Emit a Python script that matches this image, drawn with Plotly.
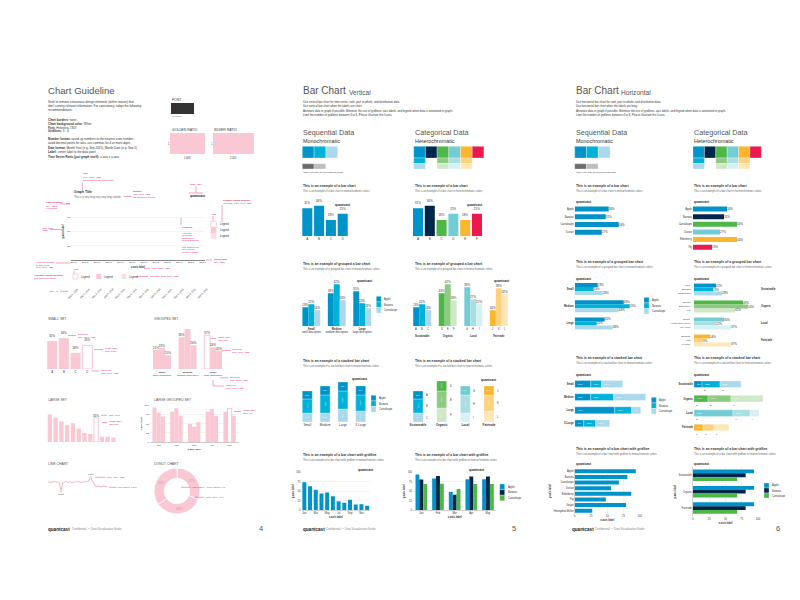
import numpy as np
import plotly.graph_objects as go

W, H = 800, 600
FONT = "Liberation Sans, Arial, Helvetica, sans-serif"
INK = "#333333"
SUBTXT = "#666666"
HEAD = "#555555"
RED = "#e8175d"
PINK = "#f9c8d4"
PINK_LIGHT = "#fcdfe6"
PINK_LINE = "#f2a0b6"
BLUE1, BLUE2, BLUE3 = "#0093c9", "#00b1da", "#a9d9eb"
NAVY = "#00264a"
GREEN1, GREEN2, GREEN3 = "#4eb748", "#8ecb80", "#cfe8c7"
TEAL1, TEAL2, TEAL3 = "#73ccd3", "#a9dfe3", "#d7f0f2"
ORANGE1, ORANGE2, ORANGE3 = "#fbb62e", "#fdd17d", "#fee7b7"
CRIMSON = "#ec1a4c"
GRAY1, GRAY2 = "#6b6b6b", "#bdbdbd"
GRID = "#e8e8e8"
BARGAP = 0.3

# ------------------------------------------------------------------ data
# page 4 : guideline
guide_ticks = ["Sep 5"] * 12
guide_rot_ticks = ["Sep 5, 2015"] * 12
guide_yticks = [25, 50, 75, 100]
legend_words = ["Legend", "Legend", "Legend"]

small_cats = ["A", "B", "C", "D"]
small_vals = [31, 34, 18, 26]

grp_groups = ["Small", "Medium", "Large"]
grp_desc = ["small description", "medium description", "large description"]
grp_apple = [21, 35, 37]
grp_banana = [23, 45, 24]
grp_cant = [15, 26, 20]

large_vals = [31, 27, 23, 19, 21, 15, 10, 9, 27, 6, 6, 5]
large_labels = ["", "", "", "", "", "", "", "", "31%", "", "", ""]

months5 = ["Jan", "Feb", "Mar", "Apr", "May"]
lg_apple = [93, 82, 49, 82, 82]
lg_banana = [80, 91, 42, 89, 91]
lg_cant = [69, 71, 54, 71, 71]

line_vals = [46, 47, 45, 47, 48, 46, 47, 44, 24, 44, 47, 48, 45, 47, 46, 45, 47, 46, 48,
             46, 45, 47, 46, 48, 47, 50, 57, 49, 41, 36, 35, 36, 34, 35, 36, 35, 35]
line_marks = ["0.7M", "0.7M"]

donut_vals = [31, 35, 34]

# page 5 : vertical bars
mono_cats = ["A", "B", "C", "D"]
mono_vals = [31, 34, 18, 25]
hetero_cats = ["A", "B", "C", "D", "E", "F"]
hetero_vals = [31, 34, 18, 25, 18, 25]

fruit3 = ["Apple", "Banana", "Cantaloupe"]
vg_groups = ["Small", "Medium", "Large"]
vg_desc = ["small description", "medium description", "large description"]
vg_apple = [19, 33, 35]
vg_banana = [22, 42, 23]
vg_cant = [16, 26, 18]

cat_groups = ["Sustainable", "Organic", "Local", "Fairtrade"]
cat_letters = [["A", "B", "C"], ["D", "E", "F"], ["G", "H", "I"], ["J", "K", "L"]]
hg_first = [19, 33, 39, 16]
hg_second = [22, 42, 27, 38]
hg_third = [16, 26, 22, 32]

vs_groups = ["Small", "Medium", "Large", "X-Large"]
vs_apple = [8, 9, 9, 9]
vs_banana = [14, 18, 18, 16]
vs_cant = [9, 9, 13, 11]

hs_dark = [8, 10, 9, 9]
hs_mid = [14, 17, 18, 16]
hs_light = [9, 14, 9, 11]

months12 = ["Jan", "Feb", "Mar", "Apr", "May", "Jun", "Jul", "Aug", "Sep", "Oct", "Nov", "Dec"]
gm_vals = [74, 63, 54, 44, 47, 37, 24, 20, 28, 15, 16, 12]
gh_apple = [94, 84, 48, 82, 82]
gh_banana = [81, 90, 41, 89, 89]
gh_cant = [69, 70, 56, 69, 69]

# page 6 : horizontal bars
fruits4 = ["Apple", "Banana", "Cantaloupe", "Durian"]
hm_vals = [34, 31, 44, 27]
fruits6 = ["Apple", "Banana", "Cantaloupe", "Durian", "Elderberry", "Fig"]
hh_vals = [34, 31, 44, 27, 44, 19]

hgm_apple = [23, 49, 30]
hgm_banana = [19, 55, 22]
hgm_cant = [28, 44, 38]

hgh_fruits = [["Apple", "Banana", "Cantaloupe"], ["Durian", "Elderberry", "Fig"],
              ["Grape", "Honeydew Melon", "Ice Apple"], ["Jackfruit", "Kiwi", "Lychee"]]
hgh_first = [22, 49, 30, 16]
hgh_second = [19, 54, 22, 9]
hgh_third = [28, 41, 37, 37]

hsm_apple = [16, 16, 40, 9]
hsm_banana = [11, 23, 17, 12]
hsm_cant = [21, 32, 9, 14]

hsh_dark = [8, 14, 39, 9]
hsh_mid = [18, 23, 17, 11]
hsh_light = [21, 32, 9, 15]

fruits8 = ["Apple", "Banana", "Cantaloupe", "Durian", "Elderberry", "Fig", "Grape", "Honeydew Melon"]
hgr_vals = [94, 81, 68, 56, 87, 48, 79, 27]
hgr2_groups = ["Sustainable", "Organic", "Fairtrade"]
hgr2_apple = [94, 94, 94]
hgr2_banana = [81, 81, 81]
hgr2_cant = [68, 68, 68]

# ------------------------------------------------------------------ helpers
fig = go.Figure()
AX = {}
ANN = []
SHP = []
_count = [0]


def axes(x0, x1, y0, y1, xa=None, ya=None):
    _count[0] += 1
    n = _count[0]
    s = "" if n == 1 else str(n)
    def base():
        return dict(showgrid=False, zeroline=False, showline=False, ticks="",
                    showticklabels=False, fixedrange=True,
                    tickfont=dict(size=3, color=INK, family=FONT))
    xd = base()
    xd.update(domain=[x0 / W, x1 / W], anchor="y" + s)
    yd = base()
    yd.update(domain=[1 - y1 / H, 1 - y0 / H], anchor="x" + s)
    if xa:
        xd.update(xa)
    if ya:
        yd.update(ya)
    AX["xaxis" + s] = xd
    AX["yaxis" + s] = yd
    return ("x" + s, "y" + s)


def text(x, y, s, size=3.0, color=INK, anchor="left", bold=False, angle=0,
         xref="paper", yref="paper"):
    if bold:
        s = "<b>" + s + "</b>"
    ANN.append(dict(x=x / W if xref == "paper" else x,
                    y=1 - y / H if yref == "paper" else y,
                    xref=xref, yref=yref, text=s, showarrow=False,
                    xanchor=anchor, yanchor="middle", textangle=angle, borderpad=0,
                    font=dict(size=size, color=color, family=FONT)))


def rect(x0, y0, x1, y1, fill, line=None, lw=0):
    SHP.append(dict(type="rect", xref="paper", yref="paper", x0=x0 / W, x1=x1 / W,
                    y0=1 - y1 / H, y1=1 - y0 / H, fillcolor=fill,
                    line=dict(color=line or fill, width=lw), layer="above"))


def seg(x0, y0, x1, y1, color=RED, w=0.4):
    SHP.append(dict(type="line", xref="paper", yref="paper", x0=x0 / W, x1=x1 / W,
                    y0=1 - y0 / H, y1=1 - y1 / H, line=dict(color=color, width=w)))


def bar(ax, **kw):
    d = dict(xaxis=ax[0], yaxis=ax[1], showlegend=False, hoverinfo="skip",
             cliponaxis=False, constraintext="none",
             textfont=dict(size=3, color=INK, family=FONT))
    d.update(kw)
    fig.add_trace(go.Bar(**d))


def pct(vals):
    return [f"{v}%" for v in vals]


def legend_block(x, y0, colors, names, step=5.6, size=2.6):
    for i, (c, nm) in enumerate(zip(colors, names)):
        rect(x, y0 + i * step, x + 5, y0 + (i + 1) * step, c, "white", 0.3)
        text(x + 7, y0 + (i + 0.5) * step, nm, size)


def chart_title(x, y, title, sub):
    text(x, y, title, 3.4, INK, bold=True)
    text(x, y + 5, sub, 2.6, SUBTXT)


def quant(x, y):
    text(x, y, "quantcast", 3.2, "#222222", bold=True)


def footer(x, x2, page_x, num):
    text(x, 521, "quantcast", 4.6, "#222222", bold=True)
    text(x2, 521.3, "Confidential  \u2022  Data Visualization Guide", 2.8, "#888888")
    text(page_x, 520, num, 7.5, "#555555")


# ================================================================== PAGE 4
text(39, 83, "Chart Guideline", 9.6, HEAD)
para4 = ["Seek to remove extraneous design elements (within reason) that",
         "don't convey relevant information. For consistency, adopt the following",
         "recommendations."]
for i, ln in enumerate(para4):
    text(39, 94 + 4 * i, ln, 3.0)
rules = [("Chart borders:", " none"), ("Chart background color:", " White"),
         ("Font:", " Helvetica #333"), ("Gridlines:", " 3 - 6"),
         ("Number format:", " round up numbers to the nearest even number,"),
         ("", "avoid decimal points for axis. use commas for 4 or more digits"),
         ("Date format:", " Month Year (e.g. Sep 2015), Month Date (e.g. Sep 5)"),
         ("Label:", " center label to the data point"),
         ("Time Series Ratio (just graph itself):", " x-axis x y-axis")]
rule_y = [111.7, 115.7, 119.5, 123.3, 131.3, 135.3, 140, 144, 148.7]
for (b, r), yy in zip(rules, rule_y):
    text(39, yy, (f"<b>{b}</b>" if b else "") + r, 3.0)

text(163, 92, "FONT", 3.4, INK)
rect(163, 95, 186, 106, "#333333")
text(163, 108.3, "Helvetica", 2.3, SUBTXT)
text(163, 122, "GOLDEN RATIO", 3.4, INK)
rect(162, 125, 197, 146, PINK)
text(158.5, 135.5, "1", 2.6, INK)
text(179.5, 150.3, "1.618", 2.6, INK, anchor="center")
text(205, 122, "SILVER RATIO", 3.4, INK)
rect(205, 125, 246, 146, PINK)
text(201.5, 135.5, "1", 2.6, INK)
text(225.5, 150.3, "2.414", 2.6, INK, anchor="center")

# guideline frame
gax = axes(63, 197, 195, 252,
           xa=dict(range=[-0.2, 11.2], tickmode="array", tickvals=list(range(12)),
                   ticktext=guide_ticks, showticklabels=True, showline=True,
                   linecolor=INK, linewidth=0.6, tickfont=dict(size=2.4, color=INK, family=FONT),
                   title=dict(text="<b>x-axis label</b>", font=dict(size=2.6, color=INK, family=FONT), standoff=2)),
           ya=dict(range=[0, 100], tickmode="array", tickvals=guide_yticks, showticklabels=True,
                   showgrid=True, gridcolor=GRID, gridwidth=0.5,
                   tickfont=dict(size=2.4, color=INK, family=FONT),
                   title=dict(text="<b>y-axis label</b>", font=dict(size=2.6, color=INK, family=FONT), standoff=2)))
fig.add_trace(go.Scatter(x=[], y=[], xaxis=gax[0], yaxis=gax[1], showlegend=False, hoverinfo="skip"))
for i, t in enumerate(guide_rot_ticks):
    text(i, 285, t, 2.4, INK, anchor="center", angle=-45, xref=gax[0])

text(65, 184, "Graph Title", 3.4, INK, bold=True)
text(65, 188.5, "This is a very long very very long subtitle", 2.6, SUBTXT)
quant(181, 188.3)
text(188, 176.5, "width: 75px", 2.4, RED, anchor="center")
seg(188, 178.3, 188, 184.7)
seg(181, 185, 195, 185)

guide_red = [
    (74.3, 166, "Title", True), (74.3, 169.3, "14px, Bold, #333", False),
    (74.3, 172.5, "left aligned to the graph area", False),
    (124.3, 183.7, "Subtitle", True), (124.3, 186.7, "11px, Reg, #333", False),
    (124.3, 189.7, "left aligned to the title", False),
    (37, 195, "Light gridlines", True), (37, 198, "1px, #EEE,", False), (37, 201, "0.5 opacity", False),
    (33, 220, "11px, Bold,", False), (33, 223, "#333", False),
    (172.7, 219.3, "Gridlines", True), (172.7, 225, "Alternate", False),
    (172.7, 227.7, "horizontal", False), (172.7, 230.3, "gridlines by", False),
    (172.7, 233, "default gridlines", False), (172.7, 239, "Use dashed 1px", False),
    (172.7, 241.7, "10% opacity", False), (172.7, 244.3, "on top of graph", False),
    (214, 192.3, "Primary legend position", True), (214, 195.3, "Left align, 11px, Reg, #333", False),
    (203, 206.5, "Key", True),
    (205, 251.7, "Solid 0 axis", True), (205, 254.7, "1px, #333", False),
    (27, 254.3, "Centered aligned", False), (27, 257, "to data point", False),
    (27, 259.7, "11px, Reg, #333", False),
    (143, 260.3, "11px, Bold, #333", False),
    (64.5, 261.5, "Key", True),
    (25, 267.3, "Alternate legend position", True), (25, 270.3, "Left aligned to graph", False),
    (141, 268.5, "Left align, 11px, Reg, #333", False),
    (40, 283.3, "11px, 45\u00b0", False),
]
for x, y, s, b in guide_red:
    text(x, y, s, 2.4, RED, bold=b)
for x0, y0, x1, y1 in [(74.3, 175, 74.3, 182), (116, 188.5, 123.5, 188.5), (52, 196, 62, 196),
                       (42, 221.5, 54, 221.5), (173, 210, 173, 217), (214, 197, 214, 214),
                       (205, 208, 205, 213), (198, 252, 204, 252), (48, 255, 62, 255),
                       (136, 260.3, 142, 260.3), (66, 263, 66, 266), (128, 268.5, 140, 268.5),
                       (52, 283.3, 60, 283.3)]:
    seg(x0, y0, x1, y1)
# legend examples
rect(202.7, 213.3, 208.3, 219.3, "white", PINK_LINE, 0.5)
rect(202.7, 219.3, 208.3, 225, PINK)
rect(202.7, 225, 208.3, 230.7, PINK_LIGHT)
for i, w in enumerate(legend_words):
    text(210.5, 216.3 + 5.8 * i, w, 2.6)
for i, (xx, w) in enumerate(zip([65, 88.3, 113.3], legend_words)):
    if i == 0:
        rect(xx, 266, xx + 5, 271, "white", PINK_LINE, 0.5)
    else:
        rect(xx, 266, xx + 5, 271, PINK if i == 1 else PINK_LIGHT)
    text(xx + 7, 268.5, w, 2.6)

# SMALL SET
text(39, 311, "SMALL SET", 3.4, "#555555")
ax = axes(38.2, 85.2, 322, 361, xa=dict(showticklabels=True, tickfont=dict(size=2.8, color=INK, family=FONT)),
          ya=dict(range=[0, 43]))
bar(ax, x=small_cats, y=small_vals, width=0.85, text=pct(small_vals), textposition="outside",
    marker=dict(color=[PINK, PINK, PINK, "white"], line=dict(color=PINK_LINE, width=[0, 0, 0, 0.6])))
for x, y, s in [(68.5, 326.7, "Centered"), (68.5, 329.7, "11px, Reg, #333"),
                (95.5, 340.7, "Width: 35px"), (95.5, 343.7, "Gap: 10px"),
                (91.7, 362.3, "Centered"), (91.7, 365.3, "11px, Reg, #333")]:
    text(x, y, s, 2.4, RED)
seg(60, 327.5, 68, 327.5)
seg(86, 341.5, 95, 341.5)
seg(83.3, 363, 91, 363)

# GROUPED SET
text(145, 311, "GROUPED SET", 3.4, "#555555")
ax = axes(141.2, 217.9, 321, 361,
          xa=dict(showticklabels=True, tickmode="array", tickvals=grp_groups,
                  ticktext=[f"<b>{g}</b><br>{d}" for g, d in zip(grp_groups, grp_desc)],
                  tickfont=dict(size=2.5, color=INK, family=FONT)),
          ya=dict(range=[0, 44]))
bar(ax, x=grp_groups, y=grp_apple, text=pct(grp_apple), textposition="outside",
    marker=dict(color=[PINK, PINK, "white"], line=dict(color=PINK_LINE, width=[0, 0, 0.6])))
bar(ax, x=grp_groups, y=grp_banana, text=pct(grp_banana), textposition="outside", marker=dict(color=PINK))
bar(ax, x=grp_groups, y=grp_cant, text=pct(grp_cant), textposition="outside", marker=dict(color=PINK))
for x, y, s in [(208.5, 329.3, "Width: 18px"), (208.5, 332.3, "Gap: 7px"),
                (223.3, 341.7, "Centered"), (223.3, 344.7, "11px, Reg, #333"),
                (221, 369, "Centered"), (221, 372, "11px, Bold, #333"),
                (216.7, 377.3, "Centered"), (216.7, 380.3, "11px, Reg, #333")]:
    text(x, y, s, 2.4, RED)
seg(203, 330.5, 208, 330.5)
seg(214, 342.5, 223, 342.5)
seg(212, 369.8, 220.5, 369.8)
seg(205, 372, 205, 378)
seg(205, 378, 216, 378)

# LARGE SET
text(39, 392, "LARGE SET", 3.4, "#555555")
ax = axes(39, 108.3, 400, 434, ya=dict(range=[0, 38]))
bar(ax, x=list(range(len(large_vals))), y=large_vals, width=0.75, text=large_labels,
    textposition="outside",
    marker=dict(color=[PINK if t == "" else "white" for t in large_labels],
                line=dict(color=PINK_LINE, width=[0 if t == "" else 0.6 for t in large_labels])))
text(100, 407.3, "11px, Reg", 2.4, RED)
text(100, 413.5, "Width: 15px", 2.4, RED)
text(100, 416.5, "Gap: 5px", 2.4, RED)
seg(93, 407.3, 99, 407.3)
seg(94, 414.5, 99, 414.5)

# LARGE GROUPED SET
text(145, 392, "LARGE GROUPED SET", 3.4, "#555555")
ax = axes(141.8, 230.5, 397, 434.3,
          xa=dict(showticklabels=True, showline=True, linecolor="#999999", linewidth=0.5,
                  tickfont=dict(size=2.5, color=INK, family=FONT),
                  title=dict(text="<b>x-axis label</b>", font=dict(size=2.5, color=INK, family=FONT), standoff=2)),
          ya=dict(range=[0, 100], tickvals=[0, 25, 50, 75, 100], showticklabels=True, showgrid=True,
                  gridcolor=GRID, gridwidth=0.5, tickfont=dict(size=2.5, color=INK, family=FONT),
                  title=dict(text="<b>y-axis label</b>", font=dict(size=2.5, color=INK, family=FONT), standoff=2)))
bar(ax, x=months5, y=lg_apple, marker=dict(color=PINK))
bar(ax, x=months5, y=lg_banana,
    marker=dict(color=[PINK, PINK, PINK, PINK, "white"], line=dict(color=PINK_LINE, width=[0, 0, 0, 0, 0.6])))
bar(ax, x=months5, y=lg_cant, marker=dict(color=PINK))
text(233.5, 402.7, "Width: 18px", 2.4, RED)
text(233.5, 405.7, "Gap: 7px", 2.4, RED)
seg(226, 403.5, 233, 403.5)

# LINE CHART
text(39, 456, "LINE CHART", 3.4, "#555555")
ax = axes(39, 100, 465, 488, xa=dict(range=[-0.5, len(line_vals) - 0.5]), ya=dict(range=[10, 70]))
fig.add_trace(go.Scatter(x=list(range(len(line_vals))), y=line_vals, mode="lines",
                         line=dict(color=PINK_LINE, width=0.8), xaxis=ax[0], yaxis=ax[1],
                         showlegend=False, hoverinfo="skip", cliponaxis=False))
i_lo, i_hi = int(np.argmin(line_vals)), int(np.argmax(line_vals))
fig.add_trace(go.Scatter(x=[i_lo, i_hi], y=[line_vals[i_lo], line_vals[i_hi]], mode="markers+text",
                         marker=dict(size=2.4, color="white", line=dict(color=PINK_LINE, width=0.6)),
                         text=line_marks, textposition=["bottom center", "top center"],
                         textfont=dict(size=2.5, color=INK, family=FONT),
                         xaxis=ax[0], yaxis=ax[1], showlegend=False, hoverinfo="skip", cliponaxis=False))
text(98.3, 469.3, "11px, Reg, #333", 2.4, RED)
text(109.3, 479.3, "Line stroke: 1.5px", 2.4, RED)
seg(87, 469.3, 97.5, 469.3)
seg(101, 479.3, 108.5, 479.3)

# DONUT CHART
text(145, 456, "DONUT CHART", 3.4, "#555555")
fig.add_trace(go.Pie(values=donut_vals, hole=0.55, sort=False, direction="counterclockwise",
                     domain=dict(x=[146 / W, 192 / W], y=[1 - 507 / H, 1 - 459 / H]),
                     marker=dict(colors=[PINK] * len(donut_vals), line=dict(color="white", width=0.8)),
                     texttemplate="%{value}%", textposition="inside", insidetextorientation="horizontal",
                     textfont=dict(size=3, color="#ef8ea8", family=FONT),
                     showlegend=False, hoverinfo="skip"))
text(183.3, 479.3, "Hole radius = outer radius x 0.5", 2.4, RED)
text(196.7, 489.3, "11px, Reg, #FFF", 2.4, RED)
seg(173, 479.3, 182.5, 479.3)
seg(187, 489.3, 196, 489.3)

footer(39, 63.3, 250, "4")

# ================================================================== PAGE 5
text(294.3, 83, "Bar Chart", 10, HEAD)
text(339.5, 84.3, "Vertical", 6.6, HEAD)
para5 = ["Use vertical bar chart for time series, rank, part to whole, and distribution data.",
         "Use vertical bar chart when the labels are short.",
         "Annotate data in graph if possible. Minimize the use of gridlines, axis labels, and legend when data is annotated in graph.",
         "Limit the number of gridlines between 4 to 6. Please illustrate the 0 axis."]
para6 = ["Use horizontal bar chart for rank, part to whole, and distribution data.",
         "Use horizontal bar chart when the labels are long.",
         "Annotate data in graph if possible. Minimize the use of gridlines, axis labels, and legend when data is annotated in graph.",
         "Limit the number of gridlines between 4 to 6. Please illustrate the 0 axis."]

swatch_mono = [BLUE1, BLUE2, BLUE3]
swatch_gray = [GRAY1, GRAY2]
swatch_rows = [[BLUE1, NAVY, GREEN1, TEAL1, ORANGE1, CRIMSON],
               [BLUE2, None, GREEN2, TEAL2, ORANGE2, None],
               [BLUE3, None, GREEN3, TEAL3, ORANGE3, None]]


def palette_block(xl, xr, cw):
    text(xl, 124.5, "Sequential Data", 7.2, "#555555")
    text(xl, 132.5, "Monochromatic", 5.4, INK)
    for i, c in enumerate(swatch_mono):
        rect(xl + i * 11.8, 138.3, xl + (i + 1) * 11.8, 150, c, "white", 0.3)
    for i, c in enumerate(swatch_gray):
        rect(xl + i * 11.7, 155.7, xl + (i + 1) * 11.7, 161, c, "white", 0.3)
    text(xl, 164.3, "*Only use gray to represent average", 2.5, INK)
    text(xr, 124.5, "Categorical Data", 7.2, "#555555")
    text(xr, 132.5, "Heterochromatic", 5.4, INK)
    row_y = [138.3, 150, 155.5, 161]
    for r, row in enumerate(swatch_rows):
        for i, c in enumerate(row):
            if c:
                rect(xr + i * cw, row_y[r], xr + (i + 1) * cw, row_y[r + 1], c, "white", 0.3)


for i, ln in enumerate(para5):
    text(294.3, 94 + 4.3 * i, ln, 2.8)
palette_block(294.3, 405.7, 11.7)

# bar chart mono / hetero
chart_title(294.3, 178.3, "This is an example of a bar chart",
            "This is an example of a bar chart in monochromatic colors")
chart_title(405.7, 178.3, "This is an example of a bar chart",
            "This is an example of a bar chart in heterochromatic colors")
ax = axes(293.4, 340.6, 190, 228.3, xa=dict(showticklabels=True), ya=dict(range=[0, 42.5]))
bar(ax, x=mono_cats, y=mono_vals, width=0.85, marker=dict(color=BLUE1),
    text=pct(mono_vals), textposition="outside")
quant(326, 196.7)
ax = axes(404.1, 474.9, 190, 228.3, xa=dict(showticklabels=True), ya=dict(range=[0, 42.5]))
bar(ax, x=hetero_cats, y=hetero_vals, width=0.85,
    marker=dict(color=[BLUE1, NAVY, GREEN1, TEAL1, ORANGE1, CRIMSON]),
    text=pct(hetero_vals), textposition="outside")
quant(458, 196.7)

# grouped
chart_title(294.3, 255.7, "This is an example of grouped a bar chart",
            "This is an example of a grouped bar chart in monochromatic colors")
chart_title(405.7, 255.7, "This is an example of grouped a bar chart",
            "This is an example of a grouped bar chart in heterochromatic colors")
ax = axes(290.6, 366.9, 270, 318.3,
          xa=dict(showticklabels=True, tickmode="array", tickvals=vg_groups,
                  ticktext=[f"<b>{g}</b><br>{d}" for g, d in zip(vg_groups, vg_desc)],
                  tickfont=dict(size=2.6, color=INK, family=FONT)),
          ya=dict(range=[0, 48.3]))
for vals, col in zip([vg_apple, vg_banana, vg_cant], swatch_mono):
    bar(ax, x=vg_groups, y=vals, marker=dict(color=col), text=pct(vals), textposition="outside")
quant(348.3, 273.3)
legend_block(368.3, 288.3, swatch_mono, fruit3)

ax = axes(401.4, 503.6, 270, 318.3,
          xa=dict(showticklabels=True, tickmode="array", tickvals=cat_groups,
                  ticktext=[f"<b>{g}</b>" for g in cat_groups], ticklabelstandoff=7,
                  tickfont=dict(size=2.6, color=INK, family=FONT)),
          ya=dict(range=[0, 48.3]))
cols_dark = [BLUE1, GREEN1, TEAL1, ORANGE1]
cols_mid = [BLUE2, GREEN2, TEAL2, ORANGE2]
cols_light = [BLUE3, GREEN3, TEAL3, ORANGE3]
for vals, cols in zip([hg_first, hg_second, hg_third], [cols_dark, cols_mid, cols_light]):
    bar(ax, x=cat_groups, y=vals, marker=dict(color=cols), text=pct(vals), textposition="outside")
step = (1 - BARGAP) / 3
for gi, letters in enumerate(cat_letters):
    for k, L in enumerate(letters):
        text(gi + (k - 1) * step, 320.5, L, 2.6, INK, anchor="center", xref=ax[0])
quant(485, 273.3)

# stacked
chart_title(294.3, 353.3, "This is an example of a stacked bar chart",
            "This is an example of a stacked bar chart in monochromatic colors")
chart_title(405.7, 353.3, "This is an example of a stacked bar chart",
            "This is an example of a stacked bar chart in heterochromatic colors")
ax = axes(290.4, 361.6, 366, 414, xa=dict(showticklabels=True), ya=dict(range=[0, 48]))
base = np.zeros(len(vs_groups))
for vals, col in [(vs_cant, BLUE3), (vs_banana, BLUE2), (vs_apple, BLUE1)]:
    bar(ax, x=vs_groups, y=vals, base=base.tolist(), offsetgroup="s", width=0.56,
        marker=dict(color=col, line=dict(color="white", width=0.3)), text=pct(vals),
        textposition="inside", insidetextanchor="middle",
        textfont=dict(size=2.5, color="white", family=FONT))
    base = base + np.array(vals)
quant(343.3, 371)
legend_block(363, 387.3, swatch_mono, fruit3)

ax = axes(398.2, 492.8, 366, 414,
          xa=dict(showticklabels=True, tickmode="array", tickvals=cat_groups,
                  ticktext=[f"<b>{g}</b>" for g in cat_groups]),
          ya=dict(range=[0, 48]))
base = np.zeros(len(cat_groups))
for j, (vals, cols) in enumerate([(hs_light, cols_light), (hs_mid, cols_mid), (hs_dark, cols_dark)]):
    bar(ax, x=cat_groups, y=vals, base=base.tolist(), offsetgroup="s", width=0.42,
        marker=dict(color=cols, line=dict(color="white", width=0.3)), text=pct(vals),
        textposition="inside", insidetextanchor="middle",
        textfont=dict(size=2.5, color="white", family=FONT))
    for gi in range(len(cat_groups)):
        text(gi + 0.3, base[gi] + vals[gi] / 2, cat_letters[gi][2 - j], 2.6, INK,
             xref=ax[0], yref=ax[1])
    base = base + np.array(vals)
quant(471.7, 371.7)

# gridline
chart_title(294.3, 446.7, "This is an example of a bar chart with gridline",
            "This is an example of a bar chart with gridline in monochromatic colors")
chart_title(405.7, 446.7, "This is an example of a bar chart with gridline",
            "This is an example of a bar chart with gridline in heterochromatic colors")
grid_x = dict(showticklabels=True, showline=True, linecolor="#aaaaaa", linewidth=0.5,
              tickfont=dict(size=2.6, color=INK, family=FONT),
              title=dict(text="<b>x-axis label</b>", font=dict(size=2.6, color=INK, family=FONT), standoff=2))
grid_y = dict(range=[0, 100], tickvals=[0, 25, 50, 75, 100], showticklabels=True, showgrid=True,
              gridcolor=GRID, gridwidth=0.5, tickfont=dict(size=2.6, color=INK, family=FONT),
              title=dict(text="<b>y-axis label</b>", font=dict(size=2.6, color=INK, family=FONT), standoff=2))
ax = axes(293.5, 362, 464.3, 502.3, xa=dict(grid_x, tickmode="array", tickvals=months12[::2]), ya=grid_y)
bar(ax, x=months12, y=gm_vals, width=0.7, marker=dict(color=BLUE1))
quant(349, 461.7)
ax = axes(405, 488.3, 464.3, 502.3, xa=grid_x, ya=grid_y)
for vals, col in zip([gh_apple, gh_banana, gh_cant], [BLUE1, NAVY, GREEN1]):
    bar(ax, x=months5, y=vals, marker=dict(color=col))
quant(460, 461.7)
legend_block(491.7, 476, [BLUE1, NAVY, GREEN1], fruit3)

footer(294.3, 317.3, 503.3, "5")

# ================================================================== PAGE 6
text(566.7, 83, "Bar Chart", 10, HEAD)
text(612, 84.3, "Horizontal", 6.6, HEAD)
for i, ln in enumerate(para6):
    text(566.7, 94 + 4.3 * i, ln, 2.8)
palette_block(566.7, 685, 11.4)

ytick = dict(size=2.6, color=INK, family=FONT)
# simple horizontal
chart_title(566.7, 178.3, "This is an example of a bar chart",
            "This is an example of a bar chart in monochromatic colors")
chart_title(685, 178.3, "This is an example of a bar chart",
            "This is an example of a bar chart in heterochromatic colors")
ax = axes(566.7, 626.7, 197.2, 228.1, xa=dict(range=[0, 60]),
          ya=dict(showticklabels=True, range=[len(fruits4) - 0.5, -0.5], tickfont=ytick))
bar(ax, x=hm_vals, y=fruits4, orientation="h", width=0.65, marker=dict(color=BLUE1),
    text=pct(hm_vals), textposition="outside")
quant(566.7, 194.3)
ax = axes(685, 745, 197.2, 243, xa=dict(range=[0, 60]),
          ya=dict(showticklabels=True, range=[len(fruits6) - 0.5, -0.5], tickfont=ytick))
bar(ax, x=hh_vals, y=fruits6, orientation="h", width=0.65,
    marker=dict(color=[BLUE1, NAVY, GREEN1, TEAL1, ORANGE1, CRIMSON]),
    text=pct(hh_vals), textposition="outside")
quant(685, 194.3)

# grouped horizontal
chart_title(566.7, 254.3, "This is an example of a grouped bar chart",
            "This is an example of a grouped bar chart in monochromatic colors")
chart_title(685, 254.3, "This is an example of a grouped bar chart",
            "This is an example of a grouped bar chart in heterochromatic colors")
ax = axes(566.7, 626.7, 272.4, 324, xa=dict(range=[0, 60]),
          ya=dict(showticklabels=True, range=[len(vg_groups) - 0.5, -0.5], tickmode="array",
                  tickvals=vg_groups, ticktext=[f"<b>{g}</b>" for g in vg_groups], tickfont=ytick))
for vals, col in zip([hgm_apple, hgm_banana, hgm_cant], swatch_mono):
    bar(ax, x=vals, y=vg_groups, orientation="h", marker=dict(color=col),
        text=pct(vals), textposition="outside")
quant(566.7, 271)
legend_block(636, 289.3, swatch_mono, fruit3)

ax = axes(686, 746, 273, 341, xa=dict(range=[0, 60]),
          ya=dict(showticklabels=True, side="right", range=[len(cat_groups) - 0.5, -0.5],
                  tickmode="array", tickvals=cat_groups, ticktext=[f"<b>{g}</b>" for g in cat_groups],
                  ticklabelstandoff=6, tickfont=ytick))
for vals, cols in zip([hgh_first, hgh_second, hgh_third], [cols_dark, cols_mid, cols_light]):
    bar(ax, x=vals, y=cat_groups, orientation="h", marker=dict(color=cols),
        text=pct(vals), textposition="outside")
for gi, names in enumerate(hgh_fruits):
    for k, nm in enumerate(names):
        text(684, gi + (k - 1) * step, nm, 2.5, INK, anchor="right", yref=ax[1])
quant(685, 271)

# stacked horizontal
chart_title(566.7, 350, "This is an example of a stacked bar chart",
            "This is an example of a stacked bar chart in monochromatic colors")
chart_title(685, 350, "This is an example of a stacked bar chart",
            "This is an example of a stacked bar chart in heterochromatic colors")
ax = axes(566.7, 646.7, 369.5, 421.9, xa=dict(range=[0, 80]),
          ya=dict(showticklabels=True, range=[len(vs_groups) - 0.5, -0.5], tickmode="array",
                  tickvals=vs_groups, ticktext=[f"<b>{g}</b>" for g in vs_groups], tickfont=ytick))
base = np.zeros(len(vs_groups))
for vals, col in zip([hsm_apple, hsm_banana, hsm_cant], swatch_mono):
    bar(ax, x=vals, y=vs_groups, base=base.tolist(), orientation="h", offsetgroup="s", width=0.53,
        marker=dict(color=col, line=dict(color="white", width=0.3)), text=pct(vals),
        textposition="inside", insidetextanchor="start",
        textfont=dict(size=2.5, color="white", family=FONT))
    base = base + np.array(vals)
quant(566.7, 366.7)
legend_block(643.3, 389.3, swatch_mono, fruit3)

ax = axes(686, 766, 369, 426.7, xa=dict(range=[0, 80]),
          ya=dict(showticklabels=True, range=[len(cat_groups) - 0.5, -0.5], tickmode="array",
                  tickvals=cat_groups, ticktext=[f"<b>{g}</b>" for g in cat_groups], tickfont=ytick))
base = np.zeros(len(cat_groups))
for j, (vals, cols) in enumerate([(hsh_dark, cols_dark), (hsh_mid, cols_mid), (hsh_light, cols_light)]):
    bar(ax, x=vals, y=cat_groups, base=base.tolist(), orientation="h", offsetgroup="s", width=0.46,
        marker=dict(color=cols, line=dict(color="white", width=0.3)), text=pct(vals),
        textposition="inside", insidetextanchor="start",
        textfont=dict(size=2.5, color="white", family=FONT))
    for gi in range(len(cat_groups)):
        text(base[gi] + 1.2, gi + 0.47, cat_letters[gi][j], 2.5, INK, xref=ax[0], yref=ax[1])
    base = base + np.array(vals)
quant(685, 366.7)

# gridline horizontal
chart_title(566.7, 440.7, "This is an example of a bar chart with gridline",
            "This is an example of a bar chart with gridline in monochromatic colors")
chart_title(685, 440.7, "This is an example of a bar chart with gridline",
            "This is an example of a bar chart with gridline in heterochromatic colors")
hgrid_x = dict(range=[0, 100], tickvals=[0, 25, 50, 75, 100], showticklabels=True, showgrid=True,
               gridcolor=GRID, gridwidth=0.5, tickfont=dict(size=2.6, color=INK, family=FONT),
               title=dict(text="<b>x-axis label</b>", font=dict(size=2.6, color=INK, family=FONT), standoff=2))
hgrid_y = dict(showticklabels=True, showline=True, linecolor="#aaaaaa", linewidth=0.5, tickfont=ytick,
               title=dict(text="<b>y-axis label</b>", font=dict(size=2.6, color=INK, family=FONT), standoff=2))
ax = axes(566.7, 631.7, 460.5, 505.5, xa=hgrid_x,
          ya=dict(hgrid_y, range=[len(fruits8) - 0.5, -0.5]))
bar(ax, x=hgr_vals, y=fruits8, orientation="h", width=0.7, marker=dict(color=BLUE1))
quant(566.7, 456)
ax = axes(685, 750, 459, 508.3, xa=hgrid_x,
          ya=dict(hgrid_y, range=[len(hgr2_groups) - 0.5, -0.5]))
for vals, col in zip([hgr2_apple, hgr2_banana, hgr2_cant], [BLUE1, NAVY, GREEN1]):
    bar(ax, x=vals, y=hgr2_groups, orientation="h", marker=dict(color=col))
quant(685, 456)
legend_block(756, 475, [BLUE1, NAVY, GREEN1], fruit3, step=5.0)

footer(563.3, 585.7, 766.7, "6")

# ------------------------------------------------------------------ layout
fig.update_layout(
    template="none", width=W, height=H, margin=dict(l=0, r=0, t=0, b=0),
    paper_bgcolor="white", plot_bgcolor="white", showlegend=False,
    barmode="group", bargap=BARGAP, bargroupgap=0,
    font=dict(family=FONT, color=INK, size=3),
    annotations=ANN, shapes=SHP, **AX)
fig.write_html("out.html", config={"displayModeBar": False, "staticPlot": True})
